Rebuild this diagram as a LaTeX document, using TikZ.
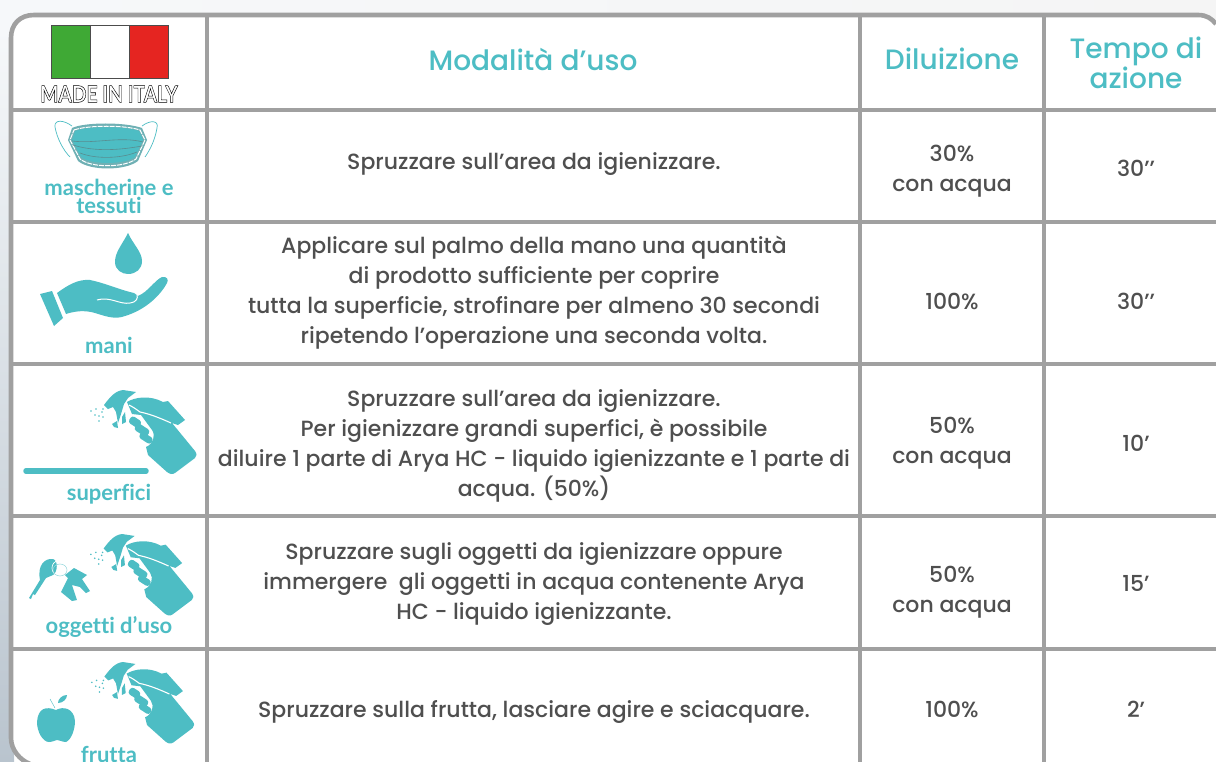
\documentclass[tikz,border=0pt]{standalone}
\usepackage{fontspec}
\setmainfont{Poppins}[UprightFont={* Medium},Ligatures=NoCommon]
\newfontfamily\lab{Lato}[BoldFont={Lato Bold},Ligatures=NoCommon]
\usetikzlibrary{calc}
\definecolor{teal1}{HTML}{4DBDC4}
\definecolor{grid}{HTML}{A0A0A0}
\definecolor{ink}{HTML}{4F4F4F}
\definecolor{bgA}{HTML}{F6F8FA}
\definecolor{bgB}{HTML}{F5F5F5}
\definecolor{bgC}{HTML}{B9C4CE}
\definecolor{fg}{HTML}{3FA935}
\definecolor{fr}{HTML}{E52521}
\definecolor{maskedge}{HTML}{6FB0B4}
\tikzset{x=1pt,y=-1pt,
 rule/.style={draw=grid,line width=4.6pt},
 body/.style={text=ink,font=\fontsize{22}{30}\selectfont,align=center,inner sep=0},
 head/.style={text=teal1,font=\fontsize{28}{30}\selectfont,align=center,inner sep=0},
 lbl/.style={text=teal1,font=\lab\bfseries\fontsize{22}{18}\selectfont,align=center,inner sep=0}}
\newcommand{\bottle}[3]{\begin{scope}[shift={(#1,#2)},scale=#3]
 % body
 \fill[teal1] (127,402) .. controls (135,397) and (150,395) .. (163,402) -- (168,401) -- (185,420) -- (178,425) -- (172,423) -- (195,451) .. controls (197,454) and (197,456) .. (195,458) -- (175,473) .. controls (172,475) and (170,474) .. (167,472) -- (148,455) -- (146,447) .. controls (153,444) and (156,436) .. (152,430) -- (141,415) -- (132,414) -- cycle;
 \draw[white,line width=1.1pt] (129,405) .. controls (135,408) and (137,410) .. (140,412) .. controls (150,414) and (160,418) .. (171,423);
 % head and nozzle
 \fill[teal1] (104,405) .. controls (110,397) and (115,391) .. (123,390) -- (136,392) -- (128,398) -- (124,404) -- (121,414) -- (118,423) -- (116,412) -- (113,407) -- (108,409) -- cycle;
 \fill[teal1] (112,424) -- (117,421) -- (118,428) -- (114,427) -- cycle;
 \fill[teal1] (122,417) -- (125,412) -- (126,422) -- (122,424) -- cycle;
 % fingers
 \fill[teal1,rounded corners=3pt,rotate around={-33:(135,422)}] (129,418) rectangle (141,426);
 \fill[teal1,rounded corners=3pt,rotate around={-33:(142,430)}] (134.5,426) rectangle (149.5,434);
 \fill[teal1,rounded corners=3pt,rotate around={-33:(146,438)}] (139,434.5) rectangle (153,441.5);
 \foreach \p in {(91,411),(96,409),(103,409),(95,415),(99,416),(102,412),(99,421),(103,417)}
   \fill[teal1] \p circle (0.9);
\end{scope}}
\begin{document}
\begin{tikzpicture}
\useasboundingbox (0,0) rectangle (1216,762);
\shade[left color=bgA,right color=bgB] (0,0) rectangle (1216,30);
\shade[top color=bgA,bottom color=bgC] (0,30) rectangle (14,762);
\fill[white] (34,15) -- (1198,15) .. controls (1207,15) and (1212,19) .. (1216,24) -- (1216,762) -- (30,762) .. controls (20,758) and (11,750) .. (11,738) -- (11,38) .. controls (11,24) and (20,15) .. (34,15) -- cycle;
% grid
\draw[rule] (1216,24) .. controls (1212,19) and (1207,15) .. (1198,15) -- (34,15) .. controls (20,15) and (11,24) .. (11,38) -- (11,738) .. controls (11,750) and (20,760) .. (30,764);
\foreach \y in {110,222,364,516,649} \draw[rule] (11,\y) -- (1216,\y);
\foreach \x in {207,860,1044} \draw[rule] (\x,15) -- (\x,762);
% flag
\fill[fg] (51,25) rectangle (90,78);
\fill[fr] (129,25) rectangle (168,78);
\draw[line width=.7pt,black!70] (51,25) rectangle (168,78) (90,25) -- (90,78) (129,25) -- (129,78);
\node[inner sep=0,xscale=.84,transform shape,font=\lab\bfseries\fontsize{23}{23}\selectfont] (made) at (109,94) {\special{pdf:code q 1 Tr 0.5 w}MADE IN ITALY\special{pdf:code Q}};
% headings
\node[head] (h1) at (533,59) {Modalità d’uso};
\node[head] (h2) at (952,59) {Diluizione};
\node[head] (h3) at (1136,63) {Tempo di\\azione};
% row 1
\node[body] (r1) at (534,164) {Spruzzare sull’area da igienizzare.};
\node[body] (d1) at (952,171) {30\%\\con acqua};
\node[body] (t1) at (1136,168) {30’’};
% row 2
\node[body] (r2) at (534,293) {Applicare sul palmo della mano una quantità\\di prodotto sufficiente per coprire\\tutta la superficie, strofinare per almeno 30 secondi\\ripetendo l’operazione una seconda volta.};
\node[body] (d2) at (952,301) {100\%};
\node[body] (t2) at (1136,301) {30’’};
% row 3
\node[body] (r3) at (534,446) {Spruzzare sull’area da igienizzare.\\Per igienizzare grandi superfici, è possibile\\diluire 1 parte di Arya HC - liquido igienizzante e 1 parte di\\acqua. (50\%)};
\node[body] (d3) at (952,443.5) {50\%\\con acqua};
\node[body] (t3) at (1136,443) {10’};
% row 4
\node[body] (r4) at (534,584) {Spruzzare sugli oggetti da igienizzare oppure\\immergere\ \ gli oggetti in acqua contenente Arya\\HC - liquido igienizzante.};
\node[body] (d4) at (952,592) {50\%\\con acqua};
\node[body] (t4) at (1136,583) {15’};
% row 5
\node[body] (r5) at (534,712) {Spruzzare sulla frutta, lasciare agire e sciacquare.};
\node[body] (d5) at (952,709) {100\%};
\node[body] (t5) at (1136,709) {2’};
% labels
\node[lbl] (l1) at (109,196) {mascherine e\\tessuti};
\node[lbl] (l2) at (109,345) {mani};
\node[lbl] (l3) at (109,494) {superfici};
\node[lbl] (l4) at (109,627) {oggetti d’uso};
\node[lbl] (l5) at (109,754) {frutta};
% mask
\draw[teal1,line width=.7pt] (72,126) .. controls (64,120) and (54,119) .. (55,127) .. controls (57,138) and (63,150) .. (70,157);
\draw[teal1,line width=.7pt] (142,126) .. controls (150,120) and (159,120) .. (157,128) .. controls (155,140) and (150,150) .. (145,157);
\fill[maskedge] (72,128) .. controls (85,122) and (125,122) .. (142,128) -- (147,140) -- (138,161) .. controls (125,171) and (90,171) .. (78,161) -- (68,140) -- cycle;
\draw[white,line width=1pt,dash pattern=on 5pt off 1pt] (74,130) .. controls (88,125) and (125,125) .. (140,130) -- (145,140) -- (136,159) .. controls (124,168) and (91,168) .. (80,159) -- (70,140) -- cycle;
\fill[teal1] (75,131) .. controls (88,126) and (125,126) .. (139,131) -- (143,140) -- (135,157) .. controls (124,165) and (91,165) .. (81,157) -- (72,140) -- cycle;
\draw[maskedge!80!black,line width=.6pt] (72,141) .. controls (95,144) and (120,136) .. (143,142) (73,145) .. controls (95,152) and (120,150) .. (142,146) (80,153) .. controls (95,159) and (120,159) .. (137,152);
% drop and hand
\fill[teal1] (128,233) .. controls (122,245) and (115,252) .. (115,262) .. controls (115,270) and (122,274) .. (128,274) .. controls (136,274) and (142,269) .. (142,261) .. controls (142,252) and (133,244) .. (128,233) -- cycle;
\fill[teal1] (40,294) -- (52,291) -- (63,318) -- (54,326) -- cycle;
\fill[teal1] (57,293) .. controls (68,285) and (78,279) .. (90,280) .. controls (105,283) and (120,290) .. (134,293) -- (138,296) .. controls (148,292) and (155,280) .. (162,277) .. controls (167,276) and (169,280) .. (167,283) .. controls (160,296) and (145,310) .. (125,316) .. controls (115,320) and (105,316) .. (95,313) .. controls (85,310) and (75,311) .. (66,314) -- cycle;
\draw[white,line width=1pt] (97,300) .. controls (110,296) and (120,305) .. (130,303) .. controls (137,302) and (138,298) .. (137,295);
% surface
\draw[teal1,line width=5.5pt,line cap=round] (26,471) -- (146,471);
\bottle{0}{0}{1}
\bottle{2.7}{155.7}{.97}
\bottle{3.5}{283.7}{.97}
% keys
\fill[teal1] (29,598) -- (40,580) .. controls (37,565) and (45,558) .. (53,559) .. controls (58,560) and (58,572) .. (53,575) -- (46,578) -- (35,595) -- (33,594) -- (31,599) -- cycle;
\fill[teal1] (61,592) -- (68,578) -- (65,575) -- (74,568) -- (87,575) -- (82,579) -- (90,591) -- (86,593) -- (80,587) -- (72,585) -- (77,600) -- (72,601) -- cycle;
\draw[white,line width=.7pt] (58,568) ellipse (6 and 7);
\draw[teal1!60,line width=.5pt] (60,570) ellipse (7 and 6);
% apple
\fill[teal1] (56,710) .. controls (46,706) and (38,708) .. (37,722) .. controls (37,732) and (43,742) .. (49,742) .. controls (53,742) and (55,740) .. (57,740) .. controls (60,740) and (62,742) .. (66,742) .. controls (71,740) and (75,730) .. (75,721) .. controls (74,708) and (63,706) .. (56,710) -- cycle;
\fill[teal1] (58,703) .. controls (58,699) and (62,695) .. (67,695) .. controls (67,699) and (63,703) .. (58,703) -- cycle;
\draw[teal1,line width=.4pt] (50,699) -- (55,708);
\end{tikzpicture}
\end{document}
